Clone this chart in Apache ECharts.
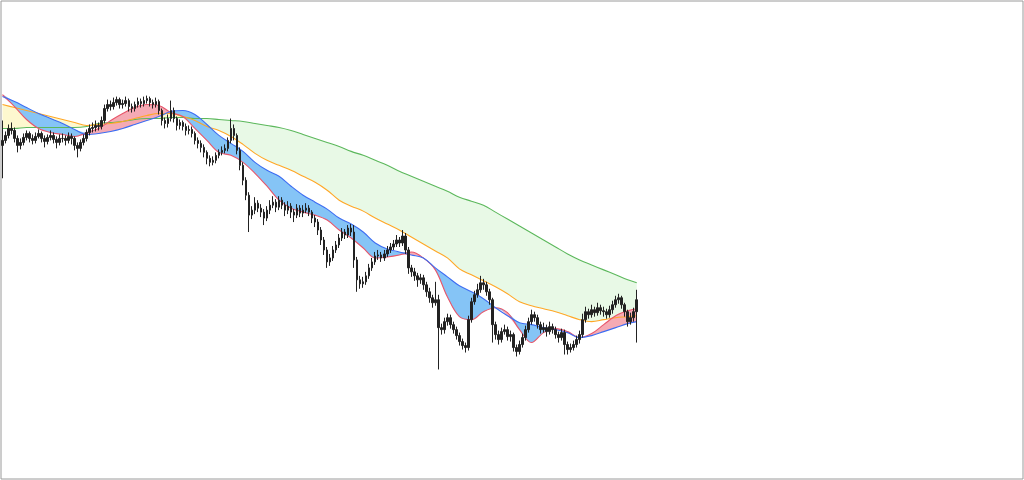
<!DOCTYPE html>
<html>
<head>
<meta charset="utf-8">
<script src="https://cdn.jsdelivr.net/npm/echarts/dist/echarts.min.js"></script>
<style>
html,body{margin:0;padding:0;background:#fff;}
#chart{width:1024px;height:480px;}
</style>
</head>
<body>
<div id="chart"></div>
<script>
// Price bars (value units)
const opens = [
335,340,345,352,350,342,335,338,343,347,
342,340,344,347,342,339,343,345,341,338,
342,342,340,344,342,335,332,338,342,348,
352,353,355,354,360,372,376,374,378,381,
376,377,380,374,372,376,379,377,380,382,
378,376,379,370,360,357,362,370,362,355,
358,354,350,351,347,340,337,333,328,322,
318,320,325,328,330,332,340,352,345,330,
315,300,285,265,270,277,272,268,262,270,
275,278,273,280,275,270,274,268,265,272,
267,270,272,268,262,258,250,240,230,218,
222,230,235,242,248,245,252,248,220,200,
196,198,204,212,218,224,225,222,226,230,
233,236,240,237,244,230,212,208,204,200,
202,195,188,182,177,180,152,150,158,162,
155,150,144,138,134,132,160,178,185,190,
197,195,188,180,155,145,140,148,150,143,
145,132,128,135,142,150,158,165,162,155,
150,152,148,153,150,145,142,147,135,130,
132,135,140,145,160,168,165,170,167,172,
169,168,165,170,175,180,182,175,168,158,162,168];
const closes = [
340,345,352,350,342,335,338,343,347,342,
340,344,347,342,339,343,345,341,338,342,
342,340,344,342,335,332,338,342,348,352,
353,355,354,360,372,376,374,378,381,376,
377,380,374,372,376,379,377,380,382,378,
376,379,370,360,357,362,370,362,355,358,
354,350,351,347,340,337,333,328,322,318,
320,325,328,330,332,340,352,345,330,315,
300,285,265,270,277,272,268,262,270,275,
278,273,280,275,270,274,268,265,272,267,
270,272,268,262,258,250,240,230,218,222,
230,235,242,248,245,252,248,220,200,196,
198,204,212,218,224,225,222,226,230,233,
236,240,237,244,230,212,208,204,200,202,
195,188,182,177,180,152,150,158,162,155,
150,144,138,134,132,160,178,185,190,197,
195,188,180,155,145,140,148,150,143,145,
132,128,135,142,150,158,165,162,155,150,
152,148,153,150,145,142,147,135,130,132,
135,140,145,160,168,165,170,167,172,169,
168,165,170,175,180,182,175,168,158,162,168,180];
const highs = [
360,349,356,358,353,345,342,347,350,349,
346,348,351,349,345,346,350,348,344,346,
347,345,348,347,344,338,341,346,351,356,
358,360,358,364,376,381,380,383,384,383,
381,384,382,377,379,383,382,384,385,384,
381,383,381,372,363,366,380,373,364,361,
360,357,355,354,349,343,340,336,330,325,
324,328,331,334,336,343,362,356,347,333,
318,303,288,274,283,280,276,271,274,280,
284,281,284,283,278,279,277,271,276,275,
275,277,275,270,265,261,253,243,233,226,
234,239,246,252,251,255,256,255,223,204,
203,208,216,222,228,230,228,230,234,237,
240,245,243,250,247,233,215,212,207,206,
205,198,192,185,198,185,156,162,166,165,
158,153,147,141,137,164,182,189,196,204,
201,198,191,182,158,149,152,155,153,149,
147,135,139,146,154,162,170,168,165,158,
157,155,158,156,153,148,151,150,138,136,
139,144,149,166,173,171,175,173,177,175,
173,171,174,179,184,186,184,177,170,167,172,190];
const lows = [
302,337,342,346,338,328,331,335,340,338,
336,337,342,338,333,336,340,337,332,335,
338,335,337,336,330,323,329,335,339,345,
348,349,350,351,357,369,370,371,375,372,
372,374,369,368,369,373,373,374,377,374,
372,373,366,355,352,353,359,358,350,351,
350,345,346,343,336,332,328,323,316,314,
315,317,322,325,327,329,337,340,326,310,
295,280,248,261,266,268,263,255,259,266,
272,268,270,271,264,266,262,258,262,263,
263,267,264,257,253,245,235,225,212,214,
219,227,232,239,241,242,244,212,188,191,
192,195,201,209,215,220,218,219,223,227,
230,233,233,234,226,206,203,199,193,196,
190,183,177,172,174,110,145,146,154,151,
146,140,134,130,127,129,157,175,182,187,
190,184,175,137,140,135,137,145,139,138,
128,123,125,132,139,147,155,158,151,146,
147,143,145,146,141,137,139,125,125,127,
129,132,136,142,157,161,162,163,164,165,
163,161,162,166,172,176,171,163,153,155,158,137];

// Moving-average lines, sampled at these bar indices
const maIndex = [0,4,8,12,16,20,24,28,32,36,40,44,48,52,56,60,64,68,72,76,80,84,88,92,96,100,104,108,112,116,120,124,128,132,136,140,144,148,152,156,160,164,168,172,176,180,184,188,192,196,200,204,208,211];
const maGreen = [352,352,353,353,353,353,353,354,357,358,359,361,362,362,363,363,362,362,361,360,359,357,355,353,350,346,342,338,334,329,325,320,315,309,304,299,294,289,283,279,275,268,261,254,247,240,233,226,220,215,210,205,200,197];
const maOrange = [376,373,370,367,364,361,358,355,356,357,359,362,365,367,367,364,360,354,350,344,336,327,320,315,310,304,298,290,280,274,269,262,256,250,243,236,229,222,211,205,199,193,186,178,174,171,168,164,160,158,160,162,163,164];
const maBlue = [384,379,373,367,362,357,351,346,347,349,352,356,360,364,369,370,366,356,345,337,329,318,310,304,294,285,278,271,262,256,248,237,231,228,225,222,212,203,194,188,181,172,164,157,155,152,150,147,142,144,148,152,156,158];
const maRed = [386,374,361,352,348,346,344,348,352,360,367,373,376,375,368,364,352,340,328,325,318,307,294,280,272,268,265,260,250,242,232,222,223,225,228,222,210,183,163,160,168,172,167,150,137,147,151,148,142,146,155,164,169,171];

const slotCount = 340;
const categories = Array.from({length: slotCount}, (_, i) => String(i));

const candleData = closes.map((c, i) => [opens[i], c, lows[i], highs[i]]);

const SM = 0.35;
function bandSeries(a, b, colorAUp, colorBUp, stackName) {
  const base = maIndex.map((x, k) => [x, Math.min(a[k], b[k])]);
  const aUp = maIndex.map((x, k) => [x, Math.max(a[k] - b[k], 0)]);
  const bUp = maIndex.map((x, k) => [x, Math.max(b[k] - a[k], 0)]);
  const common = {type: 'line', xAxisIndex: 1, stack: stackName, symbol: 'none', smooth: SM,
    lineStyle: {width: 0, opacity: 0}, silent: true, z: 1};
  return [
    Object.assign({}, common, {name: stackName + '-base', data: base}),
    Object.assign({}, common, {name: stackName + '-a', data: aUp, areaStyle: {color: colorAUp, opacity: 1}}),
    Object.assign({}, common, {name: stackName + '-b', data: bUp, areaStyle: {color: colorBUp, opacity: 1}})
  ];
}
function lineSeries(name, vals, color) {
  return {name: name, type: 'line', xAxisIndex: 1, symbol: 'none', smooth: SM, silent: true, z: 2,
    data: maIndex.map((x, k) => [x, vals[k]]), lineStyle: {color: color, width: 1.1}};
}

const chart = echarts.init(document.getElementById('chart'));
chart.setOption({
  animation: false,
  backgroundColor: '#ffffff',
  grid: {left: 1, right: 1, top: 1, bottom: 1, show: true, borderColor: '#9a9a9a', borderWidth: 1, backgroundColor: '#ffffff'},
  xAxis: [
    {type: 'category', data: categories, boundaryGap: true, show: false},
    {type: 'time', min: -0.5, max: slotCount - 0.5, show: false}
  ],
  yAxis: {type: 'value', min: 0, max: 480, show: false},
  series: [
    ...bandSeries(maOrange, maGreen, '#fdf8cf', '#e8f9e6', 'slow'),
    ...bandSeries(maRed, maBlue, '#f5aab4', '#85c4f6', 'fast'),
    lineSeries('green', maGreen, '#5cb85c'),
    lineSeries('orange', maOrange, '#ffa726'),
    lineSeries('red', maRed, '#e8566a'),
    lineSeries('blue', maBlue, '#3d6df2'),
    {
      name: 'price', type: 'candlestick', xAxisIndex: 0, data: candleData, barWidth: 2, silent: true, z: 3,
      itemStyle: {color: '#222222', color0: '#222222', borderColor: '#222222', borderColor0: '#222222', borderWidth: 1}
    }
  ]
});
</script>
</body>
</html>
